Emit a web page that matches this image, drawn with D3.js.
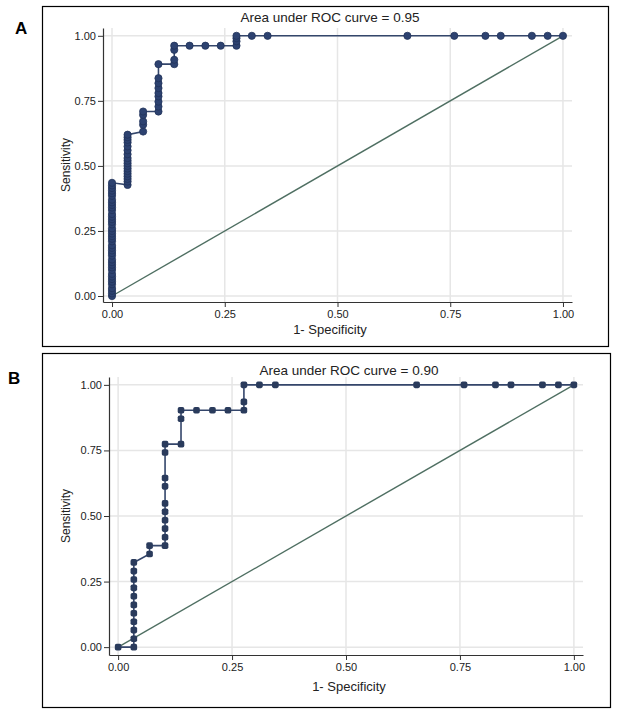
<!DOCTYPE html>
<html>
<head>
<meta charset="utf-8">
<script src="https://cdn.jsdelivr.net/npm/d3@7"></script>
<style>
  body { margin: 0; background: #fff; }
  svg text { font-family: "Liberation Sans", Arial, sans-serif; fill: #222; }
</style>
</head>
<body>
<div id="chart"></div>
<script>
// ROC data (1 - specificity, sensitivity)
var panelLabels = ["A", "B"];
var panelTitles = ["Area under ROC curve = 0.95", "Area under ROC curve = 0.90"];
var xTitle = "1- Specificity";
var yTitle = "Sensitivity";
var tickValues = [0, 0.25, 0.5, 0.75, 1];

var rocA_fpr = [
  0,0,0,0,0,0,0,0,0,0,0,0,0,0,0,0,0,0,0,0,0,0,0,0,0,0,0,0,0,0,0,0,0,0,0,0,0,0,0,0,0,
  0.0345,0.0345,0.0345,0.0345,0.0345,0.0345,0.0345,0.0345,0.0345,0.0345,0.0345,0.0345,0.0345,0.0345,0.0345,0.0345,0.0345,0.0345,
  0.069,0.069,0.069,0.069,0.069,
  0.103,0.103,0.103,0.103,0.103,0.103,0.103,0.103,0.103,
  0.138,0.138,0.138,0.138,
  0.172,0.207,0.241,
  0.276,0.276,0.276,0.276,
  0.31,0.345,0.655,0.759,0.828,0.862,0.931,0.966,1.0
];
var rocA_sens = [
  0,0.01,0.02,0.03,0.045,0.055,0.065,0.075,0.085,0.1,0.11,0.12,0.13,0.14,0.155,0.165,0.175,0.185,0.195,0.21,0.22,
  0.23,0.24,0.25,0.26,0.275,0.285,0.295,0.305,0.315,0.33,0.34,0.35,0.36,0.37,0.385,0.395,0.405,0.415,0.425,0.435,
  0.427,0.44,0.45,0.46,0.47,0.48,0.49,0.5,0.51,0.52,0.53,0.545,0.56,0.575,0.59,0.6,0.61,0.62,
  0.632,0.658,0.671,0.696,0.709,
  0.709,0.728,0.747,0.767,0.78,0.799,0.818,0.837,0.891,
  0.891,0.908,0.946,0.962,
  0.962,0.962,0.962,
  0.962,0.979,0.991,1.0,
  1,1,1,1,1,1,1,1,1
];

var rocB_fpr = [
  0,
  0.0345,0.0345,0.0345,0.0345,0.0345,0.0345,0.0345,0.0345,0.0345,0.0345,0.0345,
  0.069,0.069,
  0.103,0.103,0.103,0.103,0.103,0.103,0.103,0.103,0.103,0.103,
  0.138,0.138,0.138,
  0.172,0.207,0.241,
  0.276,0.276,0.276,
  0.31,0.345,0.655,0.759,0.828,0.862,0.931,0.966,1.0
];
var rocB_sens = [
  0,
  0,0.032,0.065,0.097,0.129,0.161,0.194,0.226,0.258,0.29,0.323,
  0.355,0.387,
  0.387,0.419,0.452,0.484,0.516,0.548,0.613,0.645,0.742,0.774,
  0.774,0.871,0.903,
  0.903,0.903,0.903,
  0.903,0.935,1.0,
  1,1,1,1,1,1,1,1,1
];

var svg = d3.select("#chart").append("svg")
  .attr("width", 629)
  .attr("height", 714);

// layout of each panel (frame, plot area)
var panels = [
  {fpr: rocA_fpr, sens: rocA_sens, box: [42, 6, 608, 346],
   plot: {left: 103, right: 572, top: 28, bottom: 302, yPad: [-0.023, 1.03]},
   label: [15, 34], title: [330, 22], xlab: [330, 334], ylab: 66, marker: "circle"},
  {fpr: rocB_fpr, sens: rocB_sens, box: [42, 353, 610, 707],
   plot: {left: 109, right: 583, top: 377, bottom: 655, yPad: [-0.03, 1.03]},
   label: [8, 384], title: [349, 375], xlab: [349, 691], ylab: 66, marker: "square"}
];

function drawPanel(p, i) {
  var g = svg.append("g");

  g.append("rect")
    .attr("x", p.box[0] + 0.5).attr("y", p.box[1] + 0.5)
    .attr("width", p.box[2] - p.box[0]).attr("height", p.box[3] - p.box[1])
    .attr("fill", "#fff").attr("stroke", "#000").attr("stroke-width", 1.2);

  g.append("text")
    .attr("x", p.label[0]).attr("y", p.label[1])
    .attr("font-size", 17).attr("font-weight", "bold")
    .style("fill", "#000")
    .text(panelLabels[i]);

  var x = d3.scaleLinear().domain([-0.02, 1.02]).range([p.plot.left, p.plot.right]);
  var y = d3.scaleLinear().domain(p.plot.yPad).range([p.plot.bottom, p.plot.top]);

  // grid
  g.append("g").selectAll("line.h").data(tickValues).join("line")
    .attr("x1", p.plot.left).attr("x2", p.plot.right)
    .attr("y1", d => y(d)).attr("y2", d => y(d))
    .attr("stroke", "#e6e6e6").attr("stroke-width", 1.5);
  g.append("g").selectAll("line.v").data(tickValues).join("line")
    .attr("x1", d => x(d)).attr("x2", d => x(d))
    .attr("y1", p.plot.top).attr("y2", p.plot.bottom)
    .attr("stroke", "#e6e6e6").attr("stroke-width", 1.5);

  // axes
  var yAxis = g.append("g")
    .attr("transform", "translate(" + p.plot.left + ",0)")
    .call(d3.axisLeft(y).tickValues(tickValues).tickFormat(d3.format(".2f"))
      .tickSize(5).tickSizeOuter(0).tickPadding(2));
  var xAxis = g.append("g")
    .attr("transform", "translate(0," + p.plot.bottom + ")")
    .call(d3.axisBottom(x).tickValues(tickValues).tickFormat(d3.format(".2f"))
      .tickSize(5).tickSizeOuter(0).tickPadding(3));
  [xAxis, yAxis].forEach(function(a) {
    a.selectAll("text").attr("font-size", 11).style("fill", "#222")
      .attr("font-family", "Liberation Sans, Arial, sans-serif");
    a.select(".domain").attr("stroke", "#333").attr("stroke-width", 1.2);
    a.selectAll(".tick line").attr("stroke", "#333");
  });

  // reference diagonal
  g.append("line")
    .attr("x1", x(0)).attr("y1", y(0)).attr("x2", x(1)).attr("y2", y(1))
    .attr("stroke", "#4f6f62").attr("stroke-width", 1.4);

  // ROC curve
  var pts = p.fpr.map((f, k) => [f, p.sens[k]]);
  var line = d3.line().x(d => x(d[0])).y(d => y(d[1]));
  g.append("path").datum(pts)
    .attr("d", line)
    .attr("fill", "none")
    .attr("stroke", "#34466b").attr("stroke-width", 1.6);

  if (p.marker == "circle") {
    g.append("g").selectAll("circle").data(pts).join("circle")
      .attr("cx", d => x(d[0])).attr("cy", d => y(d[1]))
      .attr("r", 3.6)
      .attr("fill", "#2d4270").attr("stroke", "#22345a").attr("stroke-width", 0.8);
  } else {
    g.append("g").selectAll("rect.m").data(pts).join("rect")
      .attr("x", d => x(d[0]) - 3.3).attr("y", d => y(d[1]) - 3.3)
      .attr("width", 6.6).attr("height", 6.6).attr("rx", 1.8)
      .attr("fill", "#2a3b5c");
  }

  // titles
  g.append("text")
    .attr("x", p.title[0]).attr("y", p.title[1])
    .attr("text-anchor", "middle").attr("font-size", 13.5)
    .text(panelTitles[i]);
  g.append("text")
    .attr("x", p.xlab[0]).attr("y", p.xlab[1])
    .attr("text-anchor", "middle").attr("font-size", 13)
    .text(xTitle);
  g.append("text")
    .attr("transform", "translate(" + p.ylab + "," + ((p.plot.top + p.plot.bottom) / 2) + ") rotate(-90)")
    .attr("text-anchor", "middle").attr("dy", "0.35em").attr("font-size", 12)
    .text(yTitle);
}

panels.forEach(drawPanel);
</script>
</body>
</html>
